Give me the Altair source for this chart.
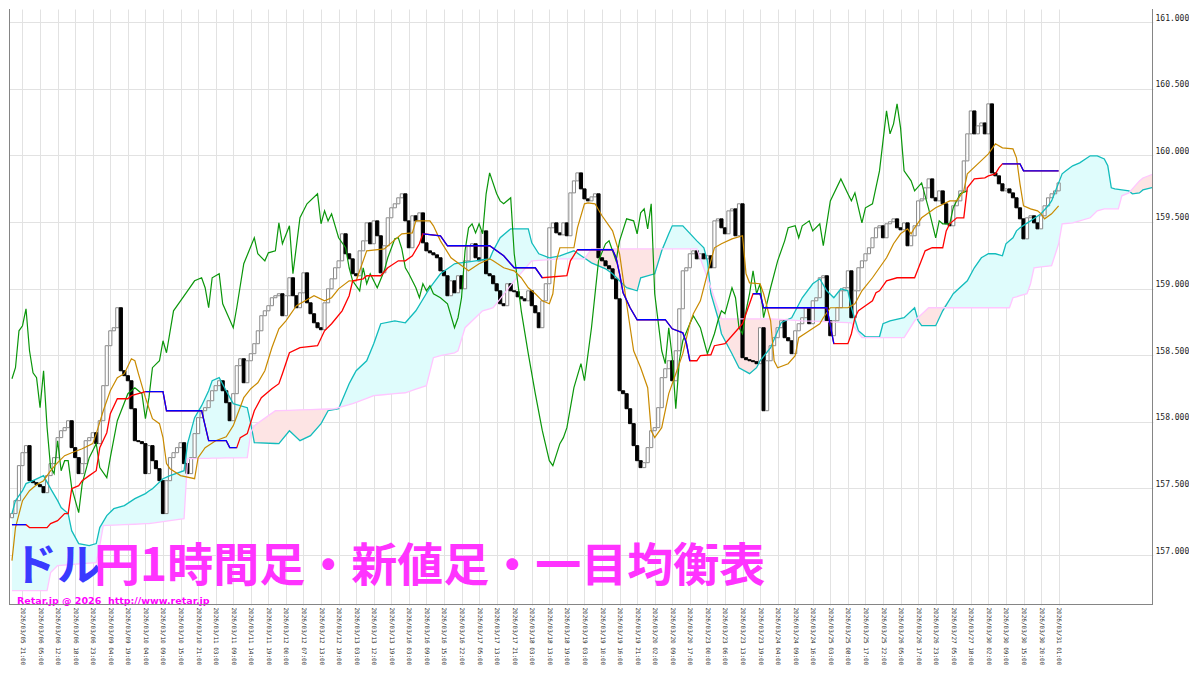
import altair as alt
import pandas as pd

W, H = 1144, 596
X_DOM = [-0.843, 324.87]
Y_DOM = [156.625, 161.098]

time_labels = [
    "2026/03/05 21:00", "2026/03/06 05:00", "2026/03/06 12:00", "2026/03/06 18:00", "2026/03/06 23:00",
    "2026/03/09 04:00", "2026/03/09 19:00", "2026/03/10 04:00", "2026/03/10 09:00", "2026/03/10 15:00",
    "2026/03/10 21:00", "2026/03/11 03:00", "2026/03/11 09:00", "2026/03/11 14:00", "2026/03/11 19:00",
    "2026/03/12 00:00", "2026/03/12 07:00", "2026/03/12 13:00", "2026/03/12 19:00", "2026/03/13 03:00",
    "2026/03/13 12:00", "2026/03/13 19:00", "2026/03/16 03:00", "2026/03/16 09:00", "2026/03/16 15:00",
    "2026/03/16 22:00", "2026/03/17 05:00", "2026/03/17 13:00", "2026/03/17 21:00", "2026/03/18 03:00",
    "2026/03/18 13:00", "2026/03/18 19:00", "2026/03/19 03:00", "2026/03/19 10:00", "2026/03/19 16:00",
    "2026/03/19 21:00", "2026/03/20 02:00", "2026/03/20 09:00", "2026/03/20 17:00", "2026/03/23 00:00",
    "2026/03/23 06:00", "2026/03/23 13:00", "2026/03/23 19:00", "2026/03/24 04:00", "2026/03/24 09:00",
    "2026/03/24 16:00", "2026/03/25 03:00", "2026/03/25 08:00", "2026/03/25 17:00", "2026/03/25 22:00",
    "2026/03/26 05:00", "2026/03/26 17:00", "2026/03/26 23:00", "2026/03/27 05:00", "2026/03/27 18:00",
    "2026/03/30 02:00", "2026/03/30 09:00", "2026/03/30 15:00", "2026/03/30 20:00", "2026/03/31 01:00",
]

first_open = 157.28
closes = [
    157.311, 157.408, 157.671, 157.768, 157.821, 157.558, 157.543, 157.528, 157.513, 157.468,
    157.596, 157.686, 157.731, 157.881, 157.933, 157.956, 158.008, 157.806, 157.731, 157.611,
    157.686, 157.858, 157.881, 157.918, 157.836, 158.008, 158.271, 158.571, 158.683, 158.706,
    158.856, 158.383, 158.346, 158.308, 158.098, 157.858, 157.851, 157.836, 157.611, 157.821,
    157.708, 157.648, 157.558, 157.311, 157.558, 157.731, 157.768, 157.806, 157.843, 157.686,
    157.611, 157.731, 157.911, 158.031, 158.083, 158.106, 158.158, 158.233, 158.271, 158.308,
    158.233, 158.143, 158.008, 158.211, 158.421, 158.473, 158.293, 158.458, 158.511, 158.586,
    158.683, 158.796, 158.833, 158.871, 158.931, 158.946, 158.961, 158.796, 158.946, 159.081,
    158.946, 158.856, 158.968, 159.118, 158.893, 158.811, 158.743, 158.706, 158.691, 158.893,
    158.998, 159.073, 159.156, 159.208, 159.411, 159.261, 159.223, 159.111, 159.096, 159.283,
    159.358, 159.493, 159.336, 159.508, 159.396, 159.118, 159.321, 159.531, 159.606, 159.636,
    159.681, 159.711, 159.508, 159.306, 159.546, 159.508, 159.568, 159.343, 159.283, 159.268,
    159.253, 159.231, 159.133, 159.096, 158.946, 159.058, 158.968, 159.096, 158.998, 159.208,
    159.321, 159.336, 159.231, 159.208, 159.433, 159.111, 159.096, 159.036, 158.983, 158.886,
    158.871, 159.036, 158.983, 158.976, 158.938, 158.923, 158.908, 158.983, 158.871, 158.818,
    158.706, 158.908, 159.036, 159.456, 159.493, 159.418, 159.403, 159.493, 159.396, 159.718,
    159.808, 159.868, 159.748, 159.673, 159.658, 159.688, 159.711, 159.231, 159.208, 159.171,
    159.148, 159.073, 158.923, 158.233, 158.211, 158.098, 157.986, 157.821, 157.708, 157.656,
    157.693, 157.806, 157.933, 157.956, 158.106, 158.331, 158.398, 158.458, 158.308, 158.533,
    158.848, 159.133, 159.156, 159.261, 159.283, 159.223, 159.261, 159.223, 159.246, 159.156,
    159.508, 159.523, 159.456, 159.411, 159.583, 159.598, 159.396, 159.636, 158.481, 158.466,
    158.458, 158.451, 158.436, 158.706, 158.083, 158.458, 158.571, 158.631, 158.706, 158.758,
    158.631, 158.608, 158.511, 158.683, 158.736, 158.781, 158.856, 158.736, 158.908, 158.931,
    159.081, 159.096, 158.758, 158.646, 158.758, 158.856, 158.983, 159.006, 159.133, 158.781,
    158.983, 159.156, 159.208, 159.261, 159.306, 159.381, 159.456, 159.471, 159.381, 159.486,
    159.501, 159.523, 159.456, 159.441, 159.493, 159.321, 159.396, 159.471, 159.658, 159.673,
    159.756, 159.823, 159.681, 159.658, 159.733, 159.636, 159.486, 159.471, 159.621, 159.658,
    159.733, 159.958, 160.161, 160.333, 160.161, 160.221, 160.243, 160.161, 160.386, 159.868,
    159.846, 159.786, 159.733, 159.748, 159.718, 159.681, 159.606, 159.523, 159.373, 159.531,
    159.546, 159.493, 159.448, 159.546, 159.621, 159.681, 159.711, 159.733, 159.793,
]

# 転換線 (red)
tenkan = [
    (0, 157.228), (4, 157.228), (5, 157.206), (10, 157.206), (11, 157.236), (13, 157.258), (15, 157.311),
    (16, 157.311), (17, 157.498), (19, 157.521), (20, 157.558), (22, 157.596), (24, 157.633), (25, 157.806),
    (27, 157.918), (28, 158.061), (30, 158.173), (33, 158.173), (34, 158.196), (36, 158.211), (38, 158.226),
    (43, 158.226), (44, 158.083), (54, 158.083), (56, 157.858), (61, 157.858), (62, 157.806), (64, 157.806),
    (65, 157.881), (67, 157.911), (69, 158.083), (71, 158.181), (74, 158.248), (76, 158.286), (77, 158.361),
    (79, 158.518), (82, 158.556), (87, 158.571), (89, 158.683), (91, 158.736), (94, 158.833), (96, 158.946),
    (97, 159.058), (100, 159.073), (101, 159.096), (105, 159.096), (107, 159.156), (110, 159.208),
    (112, 159.208), (114, 159.246), (116, 159.336), (117, 159.411), (122, 159.396), (124, 159.321),
    (136, 159.321), (140, 159.246), (143, 159.156), (149, 159.156), (151, 159.081), (158, 159.096),
    (159, 159.208), (161, 159.291), (171, 159.291), (172, 159.231), (173, 159.111), (174, 158.968),
    (176, 158.856), (178, 158.766), (186, 158.766), (188, 158.698), (191, 158.668), (192, 158.593),
    (193, 158.458), (195, 158.458), (196, 158.496), (199, 158.503), (200, 158.571), (203, 158.586),
    (205, 158.646), (207, 158.706), (208, 158.736), (209, 158.811), (211, 158.961), (213, 158.961),
    (214, 158.856), (232, 158.856), (234, 158.586), (238, 158.586), (239, 158.661), (240, 158.781),
    (241, 158.833), (243, 158.871), (245, 158.908), (246, 158.968), (247, 158.983), (249, 159.058),
    (252, 159.081), (257, 159.081), (260, 159.283), (262, 159.306), (265, 159.306), (266, 159.433),
    (267, 159.486), (269, 159.531), (271, 159.531), (272, 159.756), (274, 159.823), (277, 159.831),
    (278, 159.846), (280, 159.861), (281, 159.906), (282, 159.936), (287, 159.936), (288, 159.883),
    (298, 159.883),
]

# 基準線 (blue), visible stretches
kijun = {
    1: [(0, 157.228), (4, 157.228)],
    2: [(38, 158.226), (43, 158.226), (44, 158.083), (54, 158.083), (56, 157.858), (61, 157.858),
        (62, 157.806), (64, 157.806)],
    3: [(117, 159.411), (122, 159.396), (124, 159.321), (136, 159.321), (140, 159.246), (143, 159.156),
        (149, 159.156), (151, 159.081)],
    4: [(161, 159.291), (171, 159.291), (172, 159.231), (173, 159.111), (174, 158.968), (176, 158.856),
        (178, 158.766), (186, 158.766), (188, 158.698), (191, 158.668), (192, 158.593), (193, 158.458)],
    5: [(211, 158.961), (213, 158.961), (214, 158.856), (232, 158.856), (234, 158.586)],
    6: [(282, 159.936), (287, 159.936), (288, 159.883), (298, 159.883)],
}

# orange line
ma_line = [
    (0, 156.958), (1, 157.206), (3, 157.408), (5, 157.483), (7, 157.528), (9, 157.558), (11, 157.633),
    (13, 157.693), (15, 157.746), (17, 157.768), (20, 157.798), (23, 157.836), (24, 157.911), (26, 158.083),
    (28, 158.233), (30, 158.331), (32, 158.361), (34, 158.473), (35, 158.458), (36, 158.361), (38, 158.181),
    (40, 158.023), (42, 157.986), (43, 157.881), (44, 157.686), (45, 157.648), (48, 157.596), (52, 157.573),
    (53, 157.731), (55, 157.806), (58, 157.858), (61, 157.888), (63, 157.971), (66, 158.181), (68, 158.248),
    (70, 158.293), (72, 158.383), (74, 158.556), (76, 158.698), (78, 158.758), (81, 158.871), (86, 158.946),
    (89, 158.908), (91, 158.931), (93, 158.998), (96, 159.058), (98, 159.058), (101, 159.283), (106, 159.298),
    (108, 159.343), (111, 159.411), (114, 159.418), (115, 159.508), (119, 159.508), (120, 159.471),
    (122, 159.358), (125, 159.231), (130, 159.133), (133, 159.186), (136, 159.223), (137, 159.208),
    (140, 159.156), (143, 159.133), (145, 159.081), (147, 159.006), (149, 158.961), (151, 158.908),
    (153, 158.886), (154, 158.961), (155, 159.208), (156, 159.306), (160, 159.306), (161, 159.456),
    (163, 159.636), (164, 159.643), (166, 159.636), (168, 159.546), (171, 159.433), (173, 159.261),
    (175, 158.886), (177, 158.533), (179, 158.406), (181, 158.256), (182, 157.933), (183, 157.881),
    (185, 157.956), (187, 158.211), (189, 158.361), (191, 158.511), (193, 158.736), (194, 158.811),
    (196, 158.908), (198, 159.111), (200, 159.306), (202, 159.336), (205, 159.373), (208, 159.396),
    (209, 159.111), (210, 159.043), (213, 159.036), (214, 158.961), (216, 158.758), (217, 158.458),
    (218, 158.406), (221, 158.436), (223, 158.496), (224, 158.631), (227, 158.683), (230, 158.736),
    (231, 158.781), (233, 158.856), (238, 158.856), (240, 158.886), (242, 158.983), (245, 159.081),
    (247, 159.156), (249, 159.231), (251, 159.336), (253, 159.411), (255, 159.448), (256, 159.411),
    (257, 159.456), (259, 159.531), (263, 159.606), (267, 159.658), (269, 159.658), (271, 159.733),
    (272, 159.861), (275, 159.936), (278, 160.011), (280, 160.086), (282, 160.056), (285, 160.048),
    (286, 159.981), (287, 159.786), (288, 159.621), (290, 159.598), (292, 159.583), (293, 159.561),
    (294, 159.523), (296, 159.561), (298, 159.621),
]

# 遅行スパン (green)
chikou = [
    (0, 158.323), (1, 158.406), (2, 158.683), (3, 158.721), (4, 158.848), (5, 158.533), (6, 158.368),
    (7, 158.331), (8, 158.106), (9, 158.383), (10, 157.956), (11, 157.656), (12, 157.611), (13, 157.858),
    (14, 157.633), (15, 157.708), (16, 157.708), (17, 157.506), (19, 157.318), (20, 157.536), (22, 157.731),
    (24, 157.836), (25, 157.656), (27, 157.581), (28, 157.731), (30, 158.008), (33, 158.211), (35, 158.256),
    (37, 158.211), (38, 158.023), (39, 158.181), (40, 158.406), (42, 158.458), (43, 158.608), (44, 158.518),
    (46, 158.833), (48, 158.908), (50, 158.983), (52, 159.058), (54, 159.081), (55, 159.006), (56, 158.856),
    (57, 159.081), (59, 159.111), (60, 158.886), (63, 158.706), (64, 158.856), (66, 159.186), (69, 159.381),
    (70, 159.261), (72, 159.208), (73, 159.268), (75, 159.283), (76, 159.493), (77, 159.336), (79, 159.471),
    (80, 159.111), (82, 159.531), (84, 159.636), (87, 159.711), (88, 159.486), (89, 159.583), (90, 159.508),
    (91, 159.561), (93, 159.381), (95, 159.306), (96, 159.156), (97, 159.058), (99, 158.983), (100, 159.156),
    (101, 159.036), (102, 159.111), (104, 159.006), (106, 159.133), (107, 159.231), (109, 159.373),
    (110, 159.381), (111, 159.298), (112, 159.156), (113, 159.111), (115, 159.006), (116, 158.931),
    (117, 159.036), (118, 158.983), (119, 159.021), (120, 158.961), (122, 158.931), (124, 158.886),
    (126, 158.706), (127, 158.781), (128, 158.931), (129, 159.283), (130, 159.456), (131, 159.486),
    (132, 159.418), (133, 159.486), (134, 159.411), (135, 159.711), (136, 159.868), (138, 159.711),
    (139, 159.658), (140, 159.636), (142, 159.681), (143, 159.261), (145, 158.833), (147, 158.511),
    (149, 158.211), (151, 157.933), (153, 157.708), (154, 157.671), (156, 157.836), (157, 157.881),
    (158, 157.956), (160, 158.256), (162, 158.436), (163, 158.308), (165, 158.706), (167, 159.208),
    (169, 159.336), (170, 159.358), (172, 159.208), (173, 159.358), (175, 159.523), (177, 159.508),
    (178, 159.411), (179, 159.568), (180, 159.598), (181, 159.448), (182, 159.636), (183, 158.961),
    (185, 158.533), (186, 158.436), (187, 158.706), (188, 158.481), (189, 158.098), (190, 158.458),
    (191, 158.608), (193, 158.736), (194, 158.796), (196, 158.706), (197, 158.608), (198, 158.511),
    (200, 158.661), (201, 158.758), (202, 158.833), (203, 158.811), (205, 159.006), (206, 158.931),
    (207, 158.706), (208, 158.661), (209, 158.833), (210, 158.961), (211, 159.133), (212, 158.961),
    (213, 159.036), (214, 158.781), (216, 159.006), (218, 159.208), (220, 159.358), (221, 159.456),
    (223, 159.471), (224, 159.381), (225, 159.471), (227, 159.508), (228, 159.433), (230, 159.486),
    (231, 159.321), (233, 159.658), (236, 159.823), (238, 159.711), (239, 159.658), (240, 159.718),
    (242, 159.493), (243, 159.606), (245, 159.636), (247, 159.883), (249, 160.333), (250, 160.161),
    (251, 160.236), (252, 160.386), (253, 160.206), (254, 159.883), (256, 159.808), (257, 159.733),
    (259, 159.793), (261, 159.598), (263, 159.381), (264, 159.508), (265, 159.486), (267, 159.486),
    (268, 159.606), (270, 159.711), (272, 159.733),
]

# 先行スパン A / B read at common bar positions
cloud_idx = [
    0, 1, 3, 4, 6, 9, 10, 11, 13, 14, 16, 17, 19, 22, 24, 25, 26, 27, 29, 32,
    35, 38, 39, 40, 43, 45, 49, 50, 52, 54, 56, 57, 59, 61, 63, 67, 68, 69, 75, 76,
    79, 82, 85, 88, 90, 92, 93, 96, 97, 98, 101, 103, 105, 109, 112, 115, 118, 119, 120, 122,
    126, 127, 129, 132, 134, 136, 137, 139, 142, 143, 147, 148, 150, 153, 156, 160, 163, 165, 169, 171,
    173, 175, 178, 179, 183, 185, 187, 188, 191, 195, 197, 198, 199, 201, 202, 205, 207, 210, 212, 213,
    216, 219, 222, 225, 228, 230, 232, 234, 236, 238, 239, 241, 242, 243, 247, 248, 250, 254, 257, 258,
    259, 261, 263, 265, 268, 272, 274, 276, 278, 280, 282, 283, 284, 285, 286, 287, 289, 290, 291, 293,
    295, 296, 298, 299, 300, 302, 304, 307, 309, 311, 312, 313, 314, 315, 316, 318, 319, 321, 322, 325,
]
span_a = [
    157.311, 157.408, 157.483, 157.536, 157.558, 157.596, 157.547, 157.498, 157.408, 157.356,
    157.311, 157.183, 157.086, 157.071, 157.086, 157.206, 157.251, 157.296, 157.348, 157.371,
    157.423, 157.461, 157.480, 157.498, 157.573, 157.596, 157.633, 157.836, 158.031, 158.121,
    158.233, 158.308, 158.331, 158.233, 158.136, 158.106, 157.986, 157.843, 157.837, 157.836,
    157.933, 157.858, 157.896, 157.986, 158.083, 158.093, 158.098, 158.286, 158.335, 158.383,
    158.458, 158.586, 158.736, 158.758, 158.743, 158.833, 158.963, 159.006, 159.041, 159.111,
    159.186, 159.190, 159.196, 159.208, 159.216, 159.223, 159.283, 159.381, 159.448, 159.448,
    159.448, 159.343, 159.261, 159.231, 159.246, 159.283, 159.229, 159.193, 159.148, 159.111,
    159.058, 159.006, 158.983, 159.081, 159.111, 159.283, 159.411, 159.471, 159.471, 159.358,
    159.306, 159.208, 158.961, 158.781, 158.661, 158.511, 158.406, 158.361, 158.406, 158.458,
    158.556, 158.743, 158.781, 158.931, 159.036, 159.073, 158.983, 158.931, 158.998, 158.983,
    158.856, 158.683, 158.660, 158.638, 158.638, 158.736, 158.758, 158.781, 158.856, 158.758,
    158.721, 158.721, 158.721, 158.833, 158.961, 159.058, 159.156, 159.231, 159.261, 159.261,
    159.246, 159.336, 159.358, 159.381, 159.433, 159.456, 159.491, 159.508, 159.526, 159.561,
    159.621, 159.658, 159.793, 159.861, 159.883, 159.921, 159.943, 159.996, 159.996, 159.973,
    159.921, 159.756, 159.748, 159.744, 159.740, 159.733, 159.711, 159.718, 159.740, 159.760,
]
span_b = [
    156.733, 156.733, 156.733, 156.733, 156.733, 156.733, 156.733, 156.868, 156.921, 156.923,
    156.927, 156.929, 156.933, 156.939, 156.943, 157.071, 157.221, 157.222, 157.224, 157.228,
    157.231, 157.235, 157.236, 157.240, 157.251, 157.258, 157.273, 157.723, 157.724, 157.725,
    157.726, 157.727, 157.728, 157.729, 157.729, 157.731, 157.918, 157.971, 158.083, 158.084,
    158.086, 158.089, 158.091, 158.094, 158.096, 158.098, 158.106, 158.128, 158.136, 158.146,
    158.176, 158.196, 158.201, 158.211, 158.218, 158.245, 158.271, 158.376, 158.481, 158.496,
    158.518, 158.533, 158.706, 158.782, 158.833, 158.848, 158.856, 158.923, 159.024, 159.058,
    159.178, 159.208, 159.212, 159.217, 159.223, 159.223, 159.223, 159.298, 159.298, 159.298,
    159.298, 159.298, 159.298, 159.298, 159.298, 159.298, 159.298, 159.298, 159.298, 159.298,
    159.152, 159.079, 159.006, 158.851, 158.773, 158.773, 158.773, 158.773, 158.773, 158.773,
    158.773, 158.768, 158.763, 158.758, 158.755, 158.753, 158.751, 158.748, 158.746, 158.744,
    158.743, 158.668, 158.631, 158.631, 158.631, 158.631, 158.631, 158.631, 158.758, 158.782,
    158.807, 158.856, 158.856, 158.856, 158.856, 158.856, 158.856, 158.856, 158.856, 158.856,
    158.856, 158.856, 158.856, 158.931, 158.938, 158.946, 158.961, 159.036, 159.156, 159.162,
    159.168, 159.171, 159.336, 159.486, 159.488, 159.493, 159.508, 159.531, 159.583, 159.598,
    159.598, 159.598, 159.598, 159.598, 159.696, 159.718, 159.748, 159.808, 159.830, 159.860,
]

# ---------- tables ----------
opens = [first_open] + closes[:-1]
bricks = pd.DataFrame({"i": list(range(len(closes))), "open": opens, "close": closes})
bricks["x1"] = bricks["i"] - 0.45
bricks["x2"] = bricks["i"] + 0.45
bricks["up"] = bricks["close"] > bricks["open"]

cloud = pd.DataFrame({"i": cloud_idx, "a": span_a, "b": span_b})
cloud["hi"] = cloud[["a", "b"]].max(axis=1)

tenkan_df = pd.DataFrame(tenkan, columns=["i", "v"])
ma_df = pd.DataFrame(ma_line, columns=["i", "v"])
chikou_df = pd.DataFrame(chikou, columns=["i", "v"])
kijun_df = pd.DataFrame(
    [(seg, i, v) for seg, pts in kijun.items() for (i, v) in pts], columns=["seg", "i", "v"]
)

# ---------- scales / axes ----------
xscale = alt.Scale(domain=X_DOM, nice=False, zero=False)
yscale = alt.Scale(domain=Y_DOM, nice=False, zero=False)

label_js = "[" + ",".join("'%s'" % s for s in time_labels) + "]"
xaxis = alt.Axis(
    values=[3 + 5 * k for k in range(len(time_labels))],
    labelExpr=label_js + "[round((datum.value - 3) / 5)]",
    labelAngle=90, labelFont="DejaVu Sans Mono", labelFontSize=6, labelColor="#222222",
    labelPadding=2, labelOverlap=False, labelFlush=False, labelBound=False,
    grid=True, gridColor="#e2e2e2", gridWidth=1, ticks=False, domain=False, title=None,
)
yaxis = alt.Axis(
    orient="right", values=[157 + 0.5 * k for k in range(9)], format=".3f",
    labelFont="DejaVu Sans Mono", labelFontSize=8, labelColor="#222222",
    labelPadding=2, labelBaseline="alphabetic", labelOffset=-2, labelOverlap=False,
    grid=True, gridColor="#e2e2e2", gridWidth=1, ticks=False, domain=False, title=None,
)


def X(f):
    return alt.X(f, type="quantitative", scale=xscale, axis=xaxis)


def Y(f):
    return alt.Y(f, type="quantitative", scale=yscale, axis=yaxis)


cyan_fill = alt.Chart(cloud).mark_area(color="#dffcfc", clip=True).encode(
    x=X("i"), y=Y("hi"), y2=alt.Y2("b"))
pink_fill = alt.Chart(cloud).mark_area(color="#fde4e4", clip=True).encode(
    x=X("i"), y=Y("hi"), y2=alt.Y2("a"))

brick_layer = alt.Chart(bricks).mark_rect(strokeWidth=1, clip=True).encode(
    x=X("x1"), x2=alt.X2("x2"), y=Y("open"), y2=alt.Y2("close"),
    fill=alt.condition("datum.up", alt.value("#ffffff"), alt.value("#000000")),
    stroke=alt.condition("datum.up", alt.value("#8a8a8a"), alt.value("#000000")),
)

span_a_line = alt.Chart(cloud).mark_line(color="#12bcbc", strokeWidth=1.3, clip=True).encode(
    x=X("i"), y=Y("a"))
span_b_line = alt.Chart(cloud).mark_line(color="#ffc6ff", strokeWidth=1.3, clip=True).encode(
    x=X("i"), y=Y("b"))
chikou_line = alt.Chart(chikou_df).mark_line(color="#0a960a", strokeWidth=1.2, clip=True).encode(
    x=X("i"), y=Y("v"))
ma_layer = alt.Chart(ma_df).mark_line(color="#c98a00", strokeWidth=1.2, clip=True).encode(
    x=X("i"), y=Y("v"))
tenkan_line = alt.Chart(tenkan_df).mark_line(color="#ff0000", strokeWidth=1.3, clip=True).encode(
    x=X("i"), y=Y("v"))
kijun_line = alt.Chart(kijun_df).mark_line(color="#0000ff", strokeWidth=1.3, clip=True).encode(
    x=X("i"), y=Y("v"), detail="seg:N")

title_a = alt.Chart(pd.DataFrame({"t": ["ドル"]})).mark_text(
    align="left", baseline="alphabetic", font="Noto Sans CJK JP", fontSize=44,
    fontWeight="bold", color="#3a3aff").encode(
    text="t:N", x=alt.value(4), y=alt.value(572))
title_b = alt.Chart(pd.DataFrame({"t": ["円1時間足・新値足・一目均衡表"]})).mark_text(
    align="left", baseline="alphabetic", font="Noto Sans CJK JP", fontSize=46,
    fontWeight="bold", color="#ff33ff").encode(
    text="t:N", x=alt.value(85), y=alt.value(572))
sub = alt.Chart(pd.DataFrame({"t": ["Retar.jp @ 2026 \u00a0http://www.retar.jp"]})).mark_text(
    align="left", baseline="alphabetic", font="DejaVu Sans", fontSize=9.5,
    fontWeight="bold", color="#ff00ff").encode(
    text="t:N", x=alt.value(8), y=alt.value(595))

dummy = pd.DataFrame({"k": [0]})
border_l = alt.Chart(dummy).mark_rule(color="#858585").encode(
    x=alt.value(0.5), y=alt.value(0), y2=alt.value(H))
border_r = alt.Chart(dummy).mark_rule(color="#858585").encode(
    x=alt.value(W - 0.5), y=alt.value(0), y2=alt.value(H))
border_b = alt.Chart(dummy).mark_rule(color="#858585").encode(
    x=alt.value(0), x2=alt.value(W), y=alt.value(H - 0.5))

chart = alt.layer(
    cyan_fill, pink_fill, brick_layer, span_a_line, span_b_line, chikou_line,
    ma_layer, tenkan_line, kijun_line, title_a, title_b, sub, border_l, border_r, border_b,
).properties(
    width=W, height=H, padding=0, background="#ffffff"
).configure_view(stroke=None)

chart.save("out.html", embed_options={"renderer": "svg", "actions": False})
